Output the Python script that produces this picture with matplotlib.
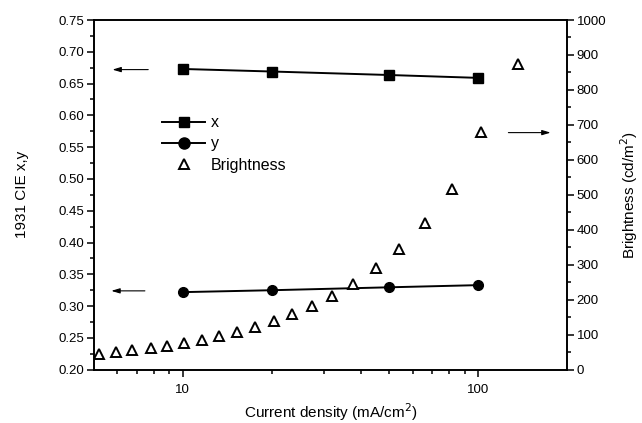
import numpy as np
import matplotlib.pyplot as plt
from matplotlib.lines import Line2D
from matplotlib.ticker import FixedLocator, MultipleLocator, NullFormatter

plt.rcParams['font.family'] = ['Liberation Sans', 'DejaVu Sans']

# CIE coordinates
j_cie = [10, 20, 50, 100]
cie_x = [0.673, 0.669, 0.6635, 0.659]
cie_y = [0.322, 0.325, 0.3296, 0.333]

# brightness vs current density
j_b = [5.2, 5.93, 6.75, 7.77, 8.87, 10.1, 11.57, 13.24, 15.25, 17.5, 20.3,
       23.5, 27.4, 32.0, 37.7, 45.1, 54.1, 65.9, 81.8, 102.6, 136.7]
bright = [45, 50.6, 55, 62, 69, 75.5, 86, 95.5, 109, 123, 140,
          159, 182, 212, 246, 290, 346, 419, 518, 681, 874]

fig = plt.figure(figsize=(6.42, 4.23), dpi=100)
ax = fig.add_axes([0.1464, 0.126, 0.7366, 0.8267])
ax2 = ax.twinx()

ax.plot(j_cie, cie_x, color='black', lw=1.4, marker='s', ms=6.5)
ax.plot(j_cie, cie_y, color='black', lw=1.4, marker='o', ms=7)
ax2.plot(j_b, bright, ls='none', marker='^', ms=7, mfc='white', mec='black', mew=1.4)

ax.set_xscale('log')
ax.set_xlim(5, 200)
ax.set_ylim(0.20, 0.75)
ax2.set_ylim(0, 1000)

ax.xaxis.set_major_locator(FixedLocator([10, 100]))
ax.xaxis.set_major_formatter(plt.FuncFormatter(lambda v, p: f"{v:g}"))
ax.xaxis.set_minor_locator(FixedLocator([6, 7, 8, 9, 20, 30, 40, 50, 60, 70, 80, 90]))
ax.xaxis.set_minor_formatter(NullFormatter())
ax.yaxis.set_major_locator(MultipleLocator(0.05))
ax.yaxis.set_major_formatter(plt.FuncFormatter(lambda v, p: f"{v:.2f}"))
ax.yaxis.set_minor_locator(MultipleLocator(0.025))
ax2.yaxis.set_major_locator(MultipleLocator(100))
ax2.yaxis.set_minor_locator(MultipleLocator(50))

for a in (ax, ax2):
    for s in a.spines.values():
        s.set_linewidth(1.2)
    a.tick_params(which='major', length=5, width=1.1, labelsize=9.5, pad=2, direction='out')
    a.tick_params(which='minor', length=3, width=1.1, direction='out')
ax.tick_params(axis='x', pad=5)
ax.tick_params(top=False, which='both')

ax.set_xlabel('Current density (mA/cm$^2$)', fontsize=11, labelpad=4)
ax.set_ylabel('1931 CIE x,y', fontsize=11, labelpad=21)
ax2.set_ylabel('Brightness (cd/m$^2$)', fontsize=11, labelpad=9)

# arrows pointing at the axes
arr = dict(arrowstyle='-|>,head_length=0.5,head_width=0.15', color='black', lw=0.8)
ax.annotate('', xy=(5.65, 0.672), xytext=(7.8, 0.672), arrowprops=arr)
ax.annotate('', xy=(5.6, 0.324), xytext=(7.6, 0.324), arrowprops=arr)
ax2.annotate('', xy=(180, 678), xytext=(124, 678), arrowprops=arr)

handles = [
    Line2D([], [], color='black', lw=1.4, marker='s', ms=7.5),
    Line2D([], [], color='black', lw=1.4, marker='o', ms=8),
    Line2D([], [], ls='none', marker='^', ms=7.5, mfc='white', mec='black', mew=1.4),
]
ax.legend(handles, ['x', 'y', 'Brightness'], loc='upper left', bbox_to_anchor=(0.127, 0.75),
          frameon=False, fontsize=11.5, handlelength=2.7, handletextpad=0.35,
          labelspacing=0.38, borderpad=0)

fig.savefig('out.png', dpi=100)
